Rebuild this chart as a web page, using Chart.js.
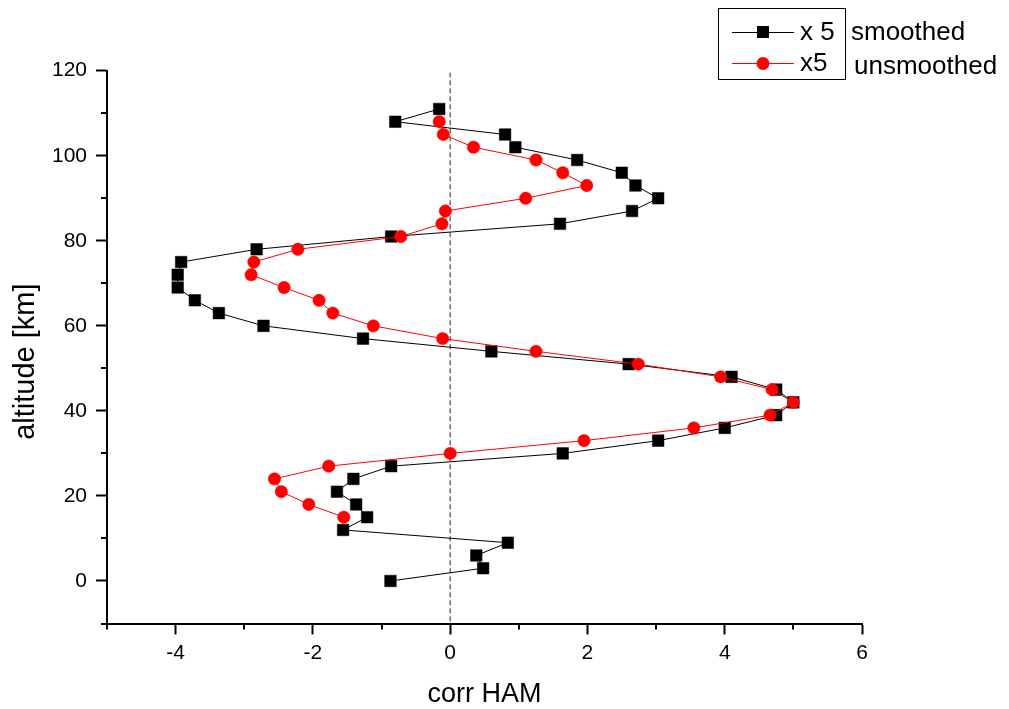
<!DOCTYPE html>
<html>
<head>
<meta charset="utf-8">
<script src="https://cdn.jsdelivr.net/npm/chart.js@4"></script>
<style>
html,body{margin:0;padding:0;background:#fff;}
#wrap{width:1009px;height:709px;}
</style>
</head>
<body>
<div id="wrap"><canvas id="c" width="1009" height="709"></canvas></div>
<script>
// ---- data ----
const altSmoothed = [0,3,6,9,12,15,18,21,24,27,30,33,36,39,42,45,48,51,54,57,60,63,66,69,72,75,78,81,84,87,90,93,96,99,102,105,108,111];
const corrSmoothed = [-0.87,0.48,0.38,0.84,-1.56,-1.21,-1.37,-1.65,-1.41,-0.86,1.64,3.03,4.0,4.75,5.0,4.75,4.1,2.6,0.6,-1.27,-2.72,-3.37,-3.72,-3.97,-3.97,-3.92,-2.82,-0.86,1.6,2.65,3.03,2.7,2.5,1.85,0.95,0.8,-0.8,-0.16];
const altUnsmoothed = [15,18,21,24,27,30,33,36,39,42,45,48,51,54,57,60,63,66,69,72,75,78,81,84,87,90,93,96,99,102,105,108];
const corrUnsmoothed = [-1.55,-2.06,-2.46,-2.56,-1.77,0,1.95,3.55,4.66,5.0,4.69,3.94,2.74,1.25,-0.11,-1.12,-1.71,-1.91,-2.42,-2.9,-2.86,-2.22,-0.72,-0.12,-0.07,1.1,1.99,1.64,1.25,0.34,-0.1,-0.16];
const zeroLineAlt = [-9.5,119.5];
const zeroLineCorr = [0,0];
const xMajorTicks = [-4,-2,0,2,4,6];
const yMajorTicks = [0,20,40,60,80,100,120];
const xMinorTicks = [-5,-3,-1,1,3,5];
const yMinorTicks = [-10,10,30,50,70,90,110];
const legendLabels = ['x 5','x5'];
const legendNotes = ['smoothed','unsmoothed'];
const xTitle = 'corr HAM';
const yTitle = 'altitude [km]';

const toPts = (xs, ys) => xs.map((x, i) => ({x: x, y: ys[i]}));
const FONT = '"Liberation Sans", Arial, sans-serif';

const minorTicks = {
  id: 'minorTicks',
  afterDraw(chart) {
    const {ctx, chartArea, scales} = chart;
    ctx.save();
    ctx.strokeStyle = '#000';
    ctx.lineWidth = 2;
    ctx.beginPath();
    xMinorTicks.forEach(v => {
      const px = Math.round(scales.x.getPixelForValue(v));
      ctx.moveTo(px, chartArea.bottom);
      ctx.lineTo(px, chartArea.bottom + 6);
    });
    yMinorTicks.forEach(v => {
      const py = Math.round(scales.y.getPixelForValue(v));
      ctx.moveTo(chartArea.left, py);
      ctx.lineTo(chartArea.left - 6, py);
    });
    ctx.stroke();
    ctx.restore();
  }
};

const customLegend = {
  id: 'customLegend',
  afterDraw(chart) {
    const ctx = chart.ctx;
    ctx.save();
    ctx.strokeStyle = '#000';
    ctx.lineWidth = 1;
    ctx.strokeRect(718.5, 8.5, 127, 71);
    const rows = [
      {y: 32, color: '#000', line: '#000', shape: 'rect', label: legendLabels[0], note: legendNotes[0], noteX: 851, noteY: 33},
      {y: 63, color: '#ff0000', line: '#ff0000', shape: 'circle', label: legendLabels[1], note: legendNotes[1], noteX: 854, noteY: 67}
    ];
    rows.forEach(r => {
      ctx.strokeStyle = r.line;
      ctx.lineWidth = 1;
      ctx.beginPath();
      ctx.moveTo(732, r.y + 0.5);
      ctx.lineTo(794, r.y + 0.5);
      ctx.stroke();
      ctx.fillStyle = r.color;
      if (r.shape === 'rect') {
        ctx.fillRect(757, r.y - 6, 12, 12);
      } else {
        ctx.beginPath();
        ctx.arc(763, r.y + 0.5, 6.5, 0, Math.PI * 2);
        ctx.fill();
      }
      ctx.fillStyle = '#000';
      ctx.font = '26px ' + FONT;
      ctx.textBaseline = 'middle';
      ctx.textAlign = 'left';
      ctx.fillText(r.label, 800, r.y + 1);
      ctx.fillText(r.note, r.noteX, r.noteY);
    });
    ctx.restore();
  }
};

new Chart(document.getElementById('c'), {
  type: 'scatter',
  data: {
    datasets: [
      {
        label: 'x 5 smoothed',
        data: toPts(corrSmoothed, altSmoothed),
        showLine: true,
        borderColor: '#000',
        backgroundColor: '#000',
        borderWidth: 1,
        pointStyle: 'rect',
        pointRadius: 8.2,
        pointBorderWidth: 0.5,
        pointBorderColor: '#000',
        pointBackgroundColor: '#000',
        order: 2
      },
      {
        label: 'x5 unsmoothed',
        data: toPts(corrUnsmoothed, altUnsmoothed),
        showLine: true,
        borderColor: '#ff0000',
        backgroundColor: '#ff0000',
        borderWidth: 1,
        pointStyle: 'circle',
        pointRadius: 6.2,
        pointBorderWidth: 0.5,
        pointBorderColor: '#ff0000',
        pointBackgroundColor: '#ff0000',
        order: 1
      },
      {
        label: 'zero',
        data: toPts(zeroLineCorr, zeroLineAlt),
        showLine: true,
        borderColor: '#777',
        borderWidth: 1.6,
        borderDash: [5, 3],
        pointRadius: 0,
        order: 3
      }
    ]
  },
  options: {
    responsive: false,
    animation: false,
    devicePixelRatio: 1,
    layout: {padding: {top: 70.7, right: 147, bottom: 0, left: 0}},
    plugins: {legend: {display: false}, tooltip: {enabled: false}},
    scales: {
      x: {
        type: 'linear',
        min: -5, max: 6,
        offset: false,
        afterFit(s) { s.height = 85.5; },
        border: {display: true, color: '#000', width: 2},
        grid: {
          display: true, drawOnChartArea: false, drawTicks: true, tickLength: 11,
          tickWidth: 2,
          tickColor: (c) => (c.tick && xMajorTicks.includes(c.tick.value)) ? '#000' : 'rgba(0,0,0,0)'
        },
        ticks: {
          stepSize: 1, autoSkip: false, maxRotation: 0, padding: 6,
          color: '#000', font: {family: FONT, size: 21},
          callback: (v) => xMajorTicks.includes(v) ? String(v) : ''
        },
        title: {display: true, text: xTitle, color: '#000', font: {family: FONT, size: 27}, padding: {top: 0, bottom: -2}}
      },
      y: {
        type: 'linear',
        min: -10, max: 120,
        offset: false,
        afterFit(s) { s.width = 107; },
        border: {display: true, color: '#000', width: 2},
        grid: {
          display: true, drawOnChartArea: false, drawTicks: true, tickLength: 11,
          tickWidth: 2,
          tickColor: (c) => (c.tick && yMajorTicks.includes(c.tick.value)) ? '#000' : 'rgba(0,0,0,0)'
        },
        ticks: {
          stepSize: 10, autoSkip: false, padding: 9,
          color: '#000', font: {family: FONT, size: 21},
          callback: (v) => yMajorTicks.includes(v) ? String(v) : ''
        },
        title: {display: true, text: yTitle + '\u2002\u2002', color: '#000', font: {family: FONT, size: 29}, padding: {top: 9, bottom: 0}}
      }
    }
  },
  plugins: [minorTicks, customLegend]
});
</script>
</body>
</html>
